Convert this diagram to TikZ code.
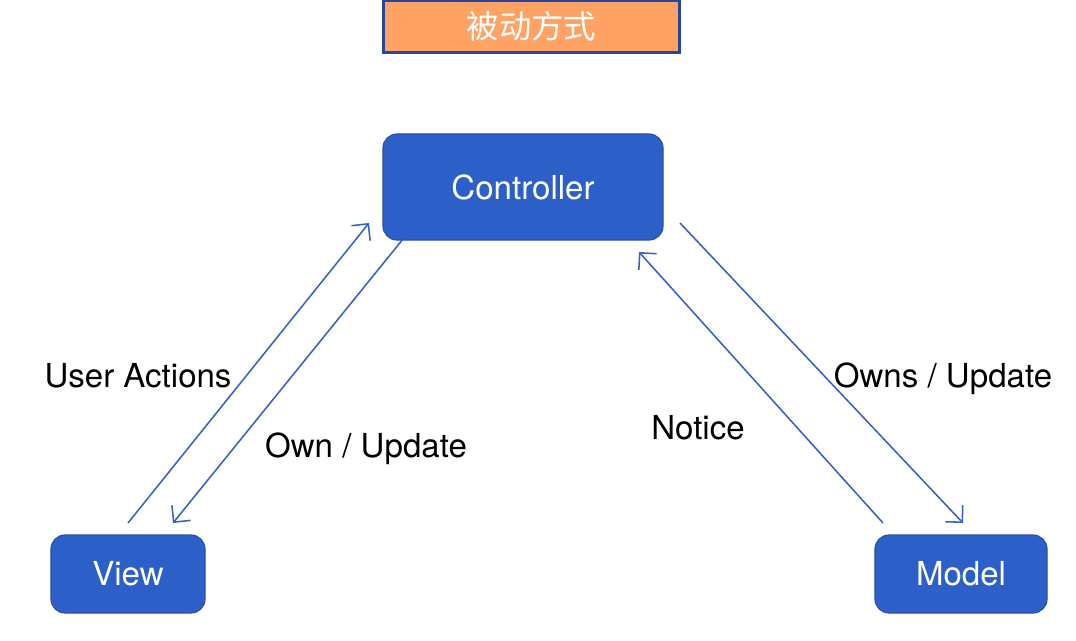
\documentclass[tikz,border=0pt]{standalone}
\usepackage{fontspec}
\setmainfont{TeX Gyre Heros}
\newfontfamily\cjk{Noto Sans CJK SC}
\usepackage{tikz}
\usetikzlibrary{arrows.meta}
\definecolor{boxblue}{HTML}{2C5FC8}
\definecolor{boxedge}{HTML}{2A4FA6}
\definecolor{linkblue}{HTML}{3462C9}
\definecolor{titlefill}{HTML}{FFA264}
\definecolor{titleedge}{HTML}{2845A0}

\begin{document}
\begin{tikzpicture}[x=0.025cm, y=-0.025cm]
    \tikzstyle{block}=[draw=boxedge, fill=boxblue, rounded corners=0.35cm, line width=0.8pt, text=white, inner sep=0pt, font=\fontsize{23.5}{28}\selectfont]
    \tikzstyle{title}=[draw=titleedge, fill=titlefill, line width=1.5pt, text=white, inner sep=0pt, font=\cjk\fontsize{23}{28}\selectfont]
    \tikzstyle{label}=[fill=none, draw=none, text=black, inner sep=0pt, font=\fontsize{23.5}{28}\selectfont]
    \tikzstyle{arrow}=[-{Straight Barb[length=0.3cm, width=0.6cm]}, draw=linkblue, line width=1.1pt]
    \useasboundingbox (0,0) rectangle (1076,640);

    % boxes
    \node [style=title, minimum width=7.4cm, minimum height=1.3cm] (mode) at (531.5, 26.5) {被动方式};
    \node [style=block, minimum width=7cm, minimum height=2.65cm] (ctrl) at (523, 187) {Controller};
    \node [style=block, minimum width=3.85cm, minimum height=1.95cm] (view) at (128, 574) {View};
    \node [style=block, minimum width=4.3cm, minimum height=1.95cm] (model) at (961, 574) {Model};

    % arrow ends
    \coordinate (ua1) at (128, 523);
    \coordinate (ua2) at (369, 223);
    \coordinate (ou1) at (403, 239);
    \coordinate (ou2) at (173, 523);
    \coordinate (os1) at (680, 223);
    \coordinate (os2) at (963, 523);
    \coordinate (nt1) at (883, 523);
    \coordinate (nt2) at (639, 252);

    \draw [style=arrow] (ua1) to (ua2);
    \draw [style=arrow] (ou1) to (ou2);
    \draw [style=arrow] (os1) to (os2);
    \draw [style=arrow] (nt1) to (nt2);

    \node [style=label] (useract) at (138, 376) {User Actions};
    \node [style=label] (ownupd) at (366, 449) {Own / Update};
    \node [style=label] (notice) at (698, 428) {Notice};
    \node [style=label] (ownsupd) at (943, 379) {Owns / Update};
\end{tikzpicture}
\end{document}
